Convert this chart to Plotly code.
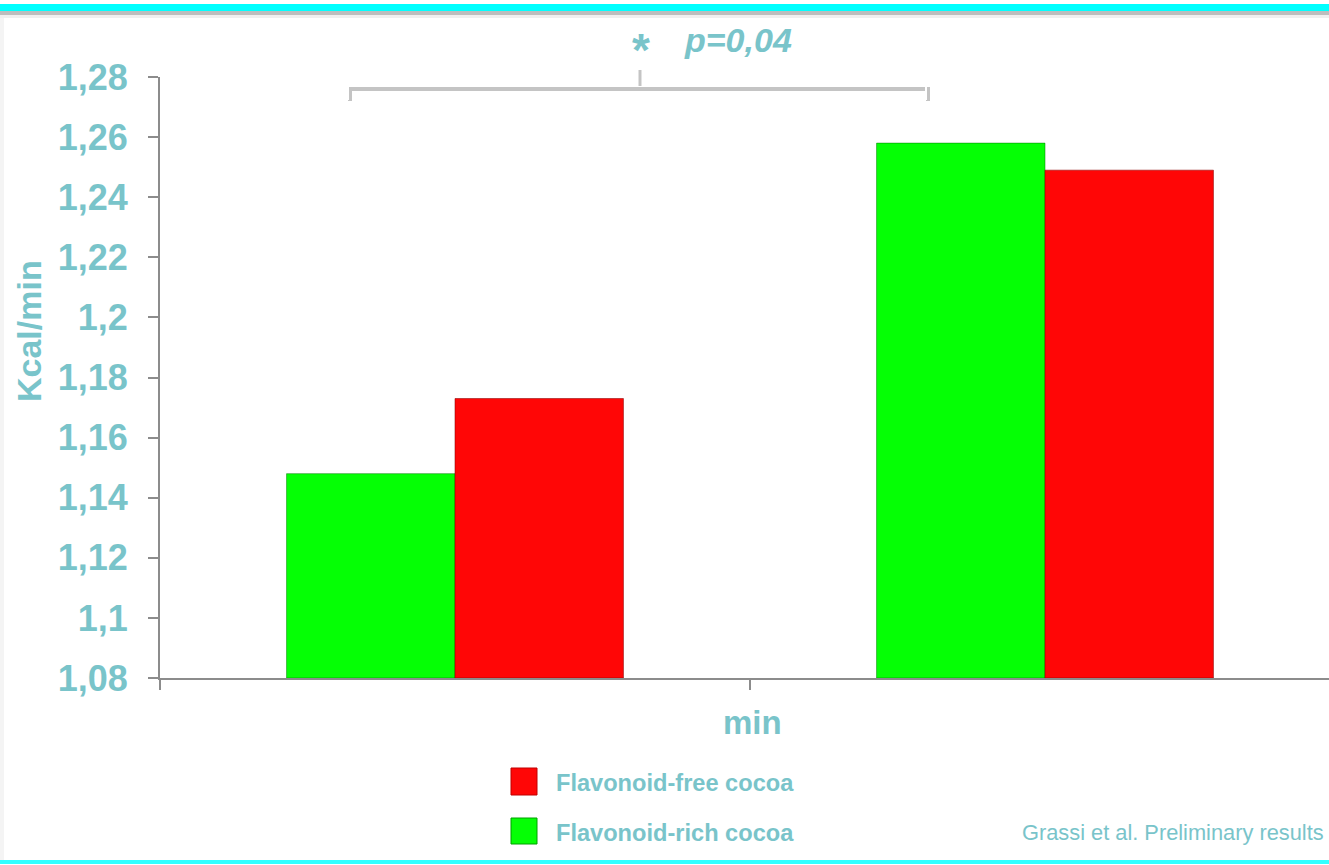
import plotly.graph_objects as go

# ---- data ----
groups = [0, 1]
rich_values = [1.148, 1.258]   # Flavonoid-rich cocoa (green)
free_values = [1.173, 1.249]   # Flavonoid-free cocoa (red)
series_names = ["Flavonoid-rich cocoa", "Flavonoid-free cocoa"]
y_tickvals = [1.08, 1.10, 1.12, 1.14, 1.16, 1.18, 1.20, 1.22, 1.24, 1.26, 1.28]
y_ticktext = ["1,08", "1,1", "1,12", "1,14", "1,16", "1,18", "1,2", "1,22", "1,24", "1,26", "1,28"]
x_title = "min"
y_title = "Kcal/min"
sig_star = "*"
sig_text = "p=0,04"
source_text = "Grassi et al. Preliminary results"

W, H = 1329, 865
L, R, T, B = 160, 1329, 77, 678
TEAL = "#79C4CA"
FONT = "Liberation Sans, Arial, sans-serif"


def px(x):
    return (x - L) / (R - L)


def py(y):
    return (B - y) / (B - T)


fig = go.Figure()
fig.add_trace(go.Bar(x=groups, y=[v - 1.08 for v in rich_values], base=1.08,
                     name=series_names[0], marker=dict(color="#05FF05",
                     line=dict(color="rgba(0,120,0,0.5)", width=1))))
fig.add_trace(go.Bar(x=groups, y=[v - 1.08 for v in free_values], base=1.08,
                     name=series_names[1], marker=dict(color="#FF0606",
                     line=dict(color="rgba(140,0,0,0.55)", width=1))))

shapes = []
# top band
shapes.append(dict(type="rect", xref="paper", yref="paper", x0=px(0), x1=px(W), y0=py(4), y1=py(11),
                   fillcolor="#00FFFF", line=dict(width=0), layer="above"))
shapes.append(dict(type="rect", xref="paper", yref="paper", x0=px(0), x1=px(W), y0=py(11), y1=py(15),
                   fillcolor="#BDBDBD", line=dict(width=0), layer="above"))
shapes.append(dict(type="rect", xref="paper", yref="paper", x0=px(0), x1=px(W), y0=py(15), y1=py(18),
                   fillcolor="#EFEFEF", line=dict(width=0), layer="above"))
# left light stripe
shapes.append(dict(type="rect", xref="paper", yref="paper", x0=px(0), x1=px(4), y0=py(18), y1=py(860),
                   fillcolor="#F4F4F4", line=dict(width=0), layer="below"))
# bottom cyan line
shapes.append(dict(type="rect", xref="paper", yref="paper", x0=px(0), x1=px(W), y0=py(860), y1=py(864),
                   fillcolor="#33FFFF", line=dict(width=0), layer="above"))
# bracket (white highlight + gray shadow)
shapes.append(dict(type="path", xref="paper", yref="paper",
                   path=f"M {px(350)},{py(101)} L {px(350)},{py(89)} L {px(928)},{py(89)} L {px(928)},{py(101)}",
                   line=dict(color="#C4C4C4", width=4), layer="above"))
shapes.append(dict(type="path", xref="paper", yref="paper",
                   path=f"M {px(348)},{py(100)} L {px(348)},{py(86)} L {px(926)},{py(86)} L {px(926)},{py(100)}",
                   line=dict(color="#FFFFFF", width=2), layer="above"))
shapes.append(dict(type="line", xref="paper", yref="paper", x0=px(640), x1=px(640), y0=py(86), y1=py(70),
                   line=dict(color="#C4C4C4", width=3), layer="above"))
# legend swatches
shapes.append(dict(type="rect", xref="paper", yref="paper", x0=px(511), x1=px(537), y0=py(768), y1=py(795),
                   fillcolor="#FF0606", line=dict(color="#C00000", width=1), layer="above"))
shapes.append(dict(type="rect", xref="paper", yref="paper", x0=px(511), x1=px(537), y0=py(818), y1=py(844),
                   fillcolor="#05FF05", line=dict(color="#00A000", width=1), layer="above"))

annotations = [
    dict(text=f"<b>{y_title}</b>", xref="paper", yref="paper", x=px(29), y=py(331), textangle=-90,
         showarrow=False, font=dict(size=34, color=TEAL, family=FONT), xanchor="center", yanchor="middle"),
    dict(text=f"<b>{x_title}</b>", xref="paper", yref="paper", x=px(752), y=py(722),
         showarrow=False, font=dict(size=33, color=TEAL, family=FONT), xanchor="center", yanchor="middle"),
    dict(text=f"<b>{sig_star}</b>", xref="paper", yref="paper", x=px(641), y=py(50),
         showarrow=False, font=dict(size=46, color=TEAL, family=FONT), xanchor="center", yanchor="middle"),
    dict(text=f"<b><i>{sig_text}</i></b>", xref="paper", yref="paper", x=px(682), y=py(40),
         showarrow=False, font=dict(size=34, color=TEAL, family=FONT), xanchor="left", yanchor="middle"),
    dict(text=f"<b>{series_names[1]}</b>", xref="paper", yref="paper", x=px(554), y=py(783),
         showarrow=False, font=dict(size=23.6, color=TEAL, family=FONT), xanchor="left", yanchor="middle"),
    dict(text=f"<b>{series_names[0]}</b>", xref="paper", yref="paper", x=px(554), y=py(833),
         showarrow=False, font=dict(size=23.6, color=TEAL, family=FONT), xanchor="left", yanchor="middle"),
    dict(text=source_text, xref="paper", yref="paper", x=px(1326), y=py(832),
         showarrow=False, font=dict(size=21.8, color=TEAL, family=FONT), xanchor="right", yanchor="middle"),
]

fig.update_layout(
    width=W, height=H,
    margin=dict(l=L, r=W - R, t=T, b=H - B, pad=0),
    paper_bgcolor="white", plot_bgcolor="white",
    barmode="group", bargap=0.429, bargroupgap=0,
    showlegend=False,
    shapes=shapes, annotations=annotations,
    font=dict(family=FONT, color=TEAL),
)
fig.update_xaxes(range=[-0.5, -0.5 + (R - L) / 590], tickvals=[-0.5, 0.5, 1.5], showticklabels=False,
                 ticks="outside", ticklen=10, tickwidth=2, tickcolor="#8C8C8C",
                 showline=True, linecolor="#8C8C8C", linewidth=2, showgrid=False, zeroline=False)
fig.update_yaxes(range=[1.08, 1.28], tickvals=y_tickvals, ticktext=[f"<b>{t}</b>" for t in y_ticktext],
                 ticks="outside", ticklen=10, tickwidth=2, tickcolor="#8C8C8C",
                 showline=True, linecolor="#8C8C8C", linewidth=2, showgrid=False, zeroline=False,
                 tickfont=dict(size=36, color=TEAL, family=FONT, weight="bold"), ticklabelstandoff=13)

fig.write_html("out.html", config={"displayModeBar": False},
               post_script="document.body.style.margin='0px';document.body.style.overflow='hidden';")
